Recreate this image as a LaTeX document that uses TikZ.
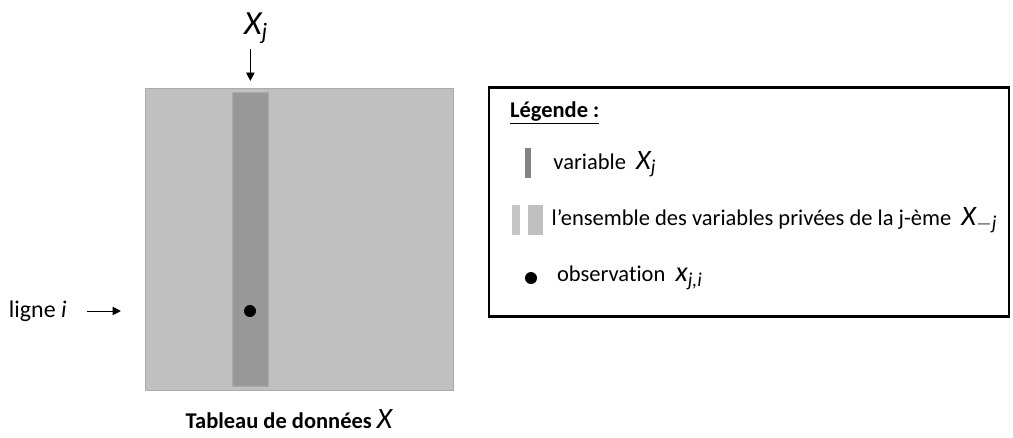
\documentclass[tikz,border=0pt]{standalone}
\usepackage{fontspec}
\setmainfont{Carlito}[Ligatures=NoCommon]
\usetikzlibrary{arrows.meta,positioning}

\definecolor{fond}{HTML}{C0C0C0}
\definecolor{colonne}{HTML}{999999}
\definecolor{bord}{HTML}{ABABAB}

% variable notee en italique avec indice
\newcommand{\mvar}[2]{{\itshape #1}\textsubscript{\itshape #2}}

\begin{document}
\begin{tikzpicture}[x=0.025cm, y=-0.025cm, every node/.style={inner sep=0pt, outer sep=0pt},
	tableau/.style={fill=fond, draw=bord, line width=0.6pt},
	varj/.style={fill=colonne, draw=bord, line width=0.6pt},
	point/.style={circle, fill=black, minimum size=0.3cm},
	fleche/.style={-{Triangle[length=6pt,width=6pt]}, line width=0.7pt},
	legende/.style={draw=black, line width=1.6pt, fill=white},
	texte/.style={font=\fontsize{16}{18}\selectfont, anchor=west},
	]
\useasboundingbox (0,0) rectangle (1013,437);

% tableau de donnees
\node[tableau, minimum width=7.7cm, minimum height=7.55cm] (tab) at (299,239) {};
\node[varj, minimum width=0.9cm, minimum height=7.35cm] (col) at (250,239.5) {};
\node[point] (obs) at (250,311) {};

\node[font=\fontsize{24}{26}\selectfont] (lblxj) at (256,28) {\mvar{X}{j}};
\draw[fleche] ([xshift=-4pt,yshift=-4pt]lblxj.south) -- ([xshift=-4pt,yshift=5pt]lblxj.south |- tab.north);

\node[texte, font=\fontsize{17}{18}\selectfont] (ligne) at (9,311) {ligne \textit{i}};
\draw[fleche] ([xshift=0.5cm]ligne.east) -- ([xshift=-0.6cm]ligne.east -| tab.west);

\node[anchor=base, font=\bfseries\fontsize{16}{18}\selectfont] (titre) at (289,428) {Tableau de donn\'ees {\mdseries\itshape\fontsize{21}{22}\selectfont X}};

% legende
\node[legende, minimum width=13.0cm, minimum height=5.72cm] (leg) at (749,202) {};
\node[texte, font=\bfseries\fontsize{16}{18}\selectfont] (titleg) at (510,113) {\underline{L\'egende :}};

\node[fill=colonne!85!black, minimum width=0.17cm, minimum height=0.75cm] (legvar) at (528,163) {};
\node[texte, right=0.55cm of legvar, yshift=-1pt] (txtvar) {variable \ {\fontsize{20}{22}\selectfont\mvar{X}{j}}};

\node[fill=fond!90!white, minimum width=0.2cm, minimum height=0.75cm] (legmj1) at (516,220) {};
\node[fill=fond, minimum width=0.37cm, minimum height=0.75cm] (legmj2) at (535.5,220) {};
\node[texte, right=0.22cm of legmj2] (txtmj) {l'ensemble des variables priv\'ees de la j-\`eme \ {\fontsize{20}{22}\selectfont\mvar{X}{$-$j}}};

\node[point] (legobs) at (531,278) {};
\node[texte, right=0.5cm of legobs] (txtobs) {observation \ {\fontsize{20}{22}\selectfont\mvar{x}{j,i}}};
\end{tikzpicture}
\end{document}
